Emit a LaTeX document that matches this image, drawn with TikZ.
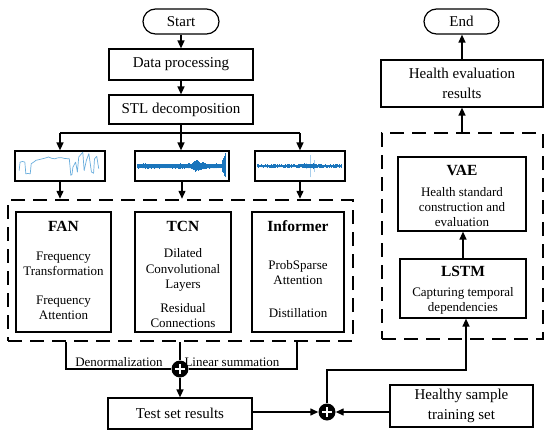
\documentclass[tikz,border=0pt]{standalone}
\usepackage{fontspec}
\setmainfont{Liberation Serif}
\usetikzlibrary{arrows.meta}
\definecolor{sigA}{HTML}{6AAEDD}
\definecolor{sigB}{HTML}{1A75BC}
\definecolor{sigC}{HTML}{A9CFEC}
\begin{document}
\begin{tikzpicture}[x=1pt,y=-1pt,
 box/.style={draw, line width=1.2pt, inner sep=0pt, align=center, fill=white, font=\fontsize{15}{19.5}\selectfont},
 grp/.style={draw, line width=2.5pt, dash pattern=on 14pt off 8pt, inner sep=0pt},
 ttl/.style={font=\bfseries\fontsize{15.5}{18}\selectfont, anchor=base, inner sep=0pt},
 txt/.style={font=\fontsize{13}{15}\selectfont, anchor=base, inner sep=0pt},
 ln/.style={line width=1.4pt},
 arr/.style={line width=1.4pt, -{Triangle[length=8pt,width=7pt]}},
 sumnode/.style={circle, fill=black, minimum size=17pt, inner sep=0pt,
   path picture={\draw[white, line width=1.7pt]
     ([xshift=-5pt]path picture bounding box.center) -- ([xshift=5pt]path picture bounding box.center)
     ([yshift=-5pt]path picture bounding box.center) -- ([yshift=5pt]path picture bounding box.center);}}
]
\useasboundingbox (0,0) rectangle (550,434);

% left column
\node[box, rounded corners=12.5pt, minimum width=76pt, minimum height=25pt] (start) at (181,21.5) {Start};
\node[box, minimum width=144pt, minimum height=31pt] (dp) at (181,64.5) {Data processing};
\node[box, minimum width=144pt, minimum height=29pt] (stl) at (181,109.5) {STL decomposition};
\node[box, minimum width=90pt, minimum height=30pt] (img1) at (60,166) {};
\node[box, minimum width=94pt, minimum height=30pt] (img2) at (182,166) {};
\node[box, minimum width=90pt, minimum height=30pt] (img3) at (300,166) {};

% signal 1
\begin{scope}[shift={(img1.north west)}, x=90pt, y=-30pt]
\draw[sigA, line width=0.7pt, line join=round] (0.053,0.67) -- (0.063,0.39) -- (0.09,0.37) -- (0.116,0.39) -- (0.127,0.78)
 -- (0.15,0.77) -- (0.176,0.78) -- (0.187,0.44) -- (0.21,0.40) -- (0.24,0.33) -- (0.27,0.31) -- (0.31,0.28) -- (0.35,0.25)
 -- (0.38,0.22) -- (0.41,0.26) -- (0.45,0.28) -- (0.48,0.25) -- (0.52,0.24) -- (0.56,0.27) -- (0.61,0.28) -- (0.627,0.83)
 -- (0.64,0.80) -- (0.65,0.56) -- (0.68,0.39) -- (0.70,0.72) -- (0.715,0.22) -- (0.76,0.06) -- (0.775,0.67) -- (0.80,0.33)
 -- (0.827,0.11) -- (0.856,0.72) -- (0.88,0.76) -- (0.89,0.28) -- (0.915,0.20) -- (0.937,0.61);
\end{scope}

% signal 2
\begin{scope}[shift={(img2.west)}, x=94pt, y=15pt]
\pgfmathsetseed{7}
\foreach \i in {0,...,220}{
 \pgfmathsetmacro\t{0.03+\i*0.94/220}
 \pgfmathsetmacro\a{0.17 + 0.25*max(0,1-abs(\t-0.66)/0.06) + 0.1*max(0,1-abs(\t-0.73)/0.03) + (\t>0.93)*(\t<0.975)*(0.1+0.75*(\t-0.93)/0.045)}
 \pgfmathsetmacro\u{\a*(0.7+0.3*rnd)}
 \pgfmathsetmacro\d{-\a*(0.7+0.3*rnd)}
 \draw[sigB, line width=0.55pt] (\t,\d) -- (\t,\u);
}
\end{scope}

% signal 3
\begin{scope}[shift={(img3.west)}, x=90pt, y=15pt]
\pgfmathsetseed{11}
\draw[sigC, line width=0.6pt] (0.62,-0.75) -- (0.62,0.75);
\draw[sigC, line width=0.6pt] (0.67,-0.4) -- (0.67,0.4);
\draw[sigC, line width=0.5pt] (0.58,-0.22) -- (0.58,0.22);
\foreach \i in {0,...,210}{
 \pgfmathsetmacro\t{0.03+\i*0.94/210}
 \pgfmathsetmacro\a{0.1 + 0.05*max(0,1-abs(\t-0.6)/0.15) + 0.12*rnd*rnd*rnd}
 \pgfmathsetmacro\u{\a*(0.6+0.4*rnd)}
 \pgfmathsetmacro\d{-\a*(0.6+0.4*rnd)}
 \draw[sigB, line width=0.5pt] (\t,\d) -- (\t,\u);
}
\end{scope}

\node[grp, minimum width=345pt, minimum height=141pt] (grpL) at (180.5,270.5) {};
\node[box, minimum width=95pt, minimum height=120pt] (fan) at (63.5,272) {};
\node[box, minimum width=96pt, minimum height=120pt] (tcn) at (183,272) {};
\node[box, minimum width=92pt, minimum height=120pt] (inf) at (298,272) {};

\node[ttl] (fanT) at (63.5,231.5) {FAN};
\node[txt] (fan1) at (63.5,260) {Frequency};
\node[txt] (fan2) at (63.5,275) {Transformation};
\node[txt] (fan3) at (63.5,304) {Frequency};
\node[txt] (fan4) at (63.5,319) {Attention};

\node[ttl] (tcnT) at (183,231.5) {TCN};
\node[txt] (tcn1) at (183,257) {Dilated};
\node[txt] (tcn2) at (183,273) {Convolutional};
\node[txt] (tcn3) at (183,288) {Layers};
\node[txt] (tcn4) at (183,312) {Residual};
\node[txt] (tcn5) at (183,327) {Connections};

\node[ttl] (infT) at (298,231.5) {Informer};
\node[txt] (inf1) at (298,269) {ProbSparse};
\node[txt] (inf2) at (298,284) {Attention};
\node[txt] (inf3) at (298,317) {Distillation};

% bottom
\node[sumnode] (s1) at (180,369) {};
\node[box, minimum width=144pt, minimum height=31pt] (test) at (180,413.5) {Test set results};
\node[sumnode] (s2) at (327,412) {};
\node[box, minimum width=143pt, minimum height=42pt] (healthy) at (461.5,406) {Healthy sample\\training set};

% right column
\node[grp, minimum width=161pt, minimum height=206pt] (grpR) at (462.5,236) {};
\node[box, minimum width=128pt, minimum height=74pt] (vae) at (462,194) {};
\node[box, minimum width=126pt, minimum height=59pt] (lstm) at (463,288.5) {};
\node[box, minimum width=162pt, minimum height=47pt] (her) at (462,83.5) {Health evaluation\\results};
\node[box, rounded corners=12.5pt, minimum width=75pt, minimum height=25pt] (end) at (461.5,21.5) {End};

\node[ttl] (vaeT) at (462,175.5) {VAE};
\node[txt] (vae1) at (462,196) {Health standard};
\node[txt] (vae2) at (462,211) {construction and};
\node[txt] (vae3) at (462,226) {evaluation};
\node[ttl] (lstmT) at (463,276.5) {LSTM};
\node[txt] (lstm1) at (463,296) {Capturing temporal};
\node[txt] (lstm2) at (463,311) {dependencies};

% connectors
\draw[arr] (start) -- (dp);
\draw[arr] (dp) -- (stl);
\coordinate (br) at (181,133);
\draw[arr] (stl.south) -- (stl.south |- img2.north);
\draw[ln] (img1.north |- br) -- (img3.north |- br);
\draw[arr] (img1.north |- br) -- (img1.north);
\draw[arr] (img3.north |- br) -- (img3.north);
\draw[arr] (img1.south) -- (img1.south |- grpL.north);
\draw[arr] (img2.south) -- (img2.south |- grpL.north);
\draw[arr] (img3.south) -- (img3.south |- grpL.north);

\coordinate (dl) at (66,369);
\coordinate (dr) at (297,369);
\draw[ln] (dl |- grpL.south) -- (dl) -- (s1);
\draw[ln] (dr |- grpL.south) -- (dr) -- (s1);
\draw[ln] (s1 |- grpL.south) -- (s1);
\draw[arr] (s1) -- (test);
\node[txt] (denorm) at (119,366) {Denormalization};
\node[txt] (linsum) at (232,366) {Linear summation};

\draw[arr] (test.east |- s2) -- (s2);
\draw[arr] (healthy.west |- s2) -- (s2);
\coordinate (up) at (466,370);
\draw[arr] (s2) -- (s2 |- up) -- (up) -- (up |- lstm.south);
\draw[arr] (lstm.north) -- (lstm.north |- vae.south);
\draw[arr] (her.south |- grpR.north) -- (her.south);
\draw[arr] (her.north) -- (her.north |- end.south);
\end{tikzpicture}
\end{document}
